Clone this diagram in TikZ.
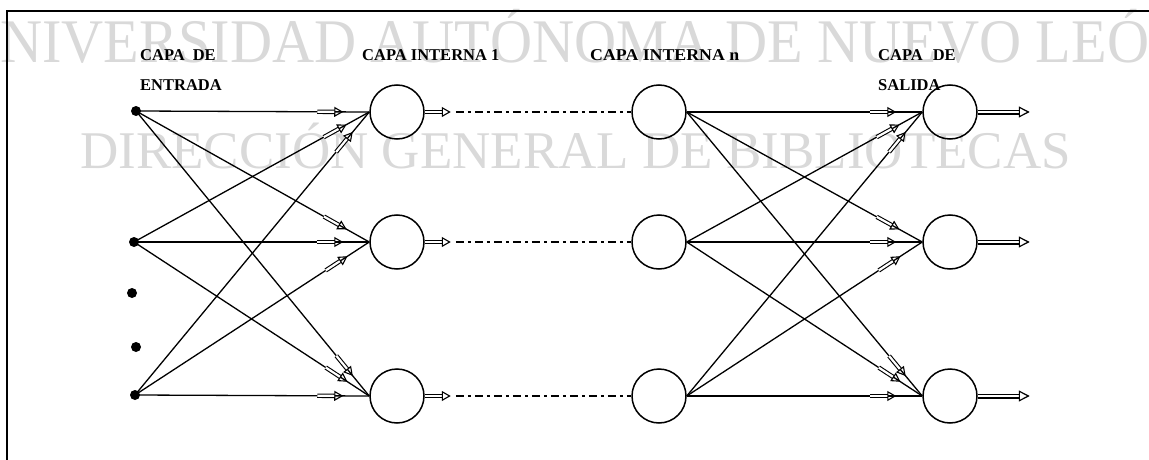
\documentclass[tikz,border=0pt]{standalone}
\usepackage{fontspec}
\setmainfont{Liberation Serif}
\usepackage{graphicx}
\usetikzlibrary{calc,arrows.meta}
\begin{document}
\begin{tikzpicture}[x=1pt,y=-1pt,
  neuron/.style={circle, draw, line width=1.5pt, minimum size=54pt, inner sep=0pt},
  dotnode/.style={circle, fill, inner sep=0pt, minimum size=10pt},
  link/.style={line width=1.3pt},
  minarrow/.style={double, double distance=2.2pt, line width=1.1pt, -{Triangle[open,length=9pt,width=10pt,line width=1.1pt]}},
  outarrow/.style={double, double distance=2.6pt, line width=1.2pt, -{Triangle[open,length=11pt,width=11pt,line width=1.2pt]}},
  dashlink/.style={line width=1.1pt, dash pattern=on 8pt off 4pt on 3pt off 4pt},
  wm/.style={text=gray!30, inner sep=0pt},
  lab/.style={font=\bfseries\fontsize{16.5}{18}\selectfont, inner sep=0pt, anchor=base west}]
\useasboundingbox (0,0) rectangle (1149,460);
\clip (0,0) rectangle (1149,460);
% watermark
\node[wm, anchor=base west, font=\fontsize{62}{64}\selectfont] (wmA) at (0,63) {\scalebox{0.94}[1]{\llap{U}NIVERSIDAD AUTÓNOMA DE NUEVO LEÓ\rlap{N}}};
\node[wm, anchor=base west, font=\fontsize{53}{55}\selectfont] (wmB) at (80,168) {DIRECCIÓN GENERAL DE BIBLIOTECAS};
% frame
\draw[line width=2.5pt] (7,470) -- (7,11) -- (1160,11);
% labels
\node[lab] (labA) at (140,60) {CAPA\hspace{8pt}DE};
\node[lab] (labB) at (140,90) {ENTRADA};
\node[lab] (labC) at (362,60) {CAPA INTERNA 1};
\node[lab] (labD) at (590,60) {\scalebox{1.08}[1]{CAPA INTERNA n}};
\node[lab] (labE) at (878,60) {CAPA\hspace{10pt}DE};
\node[lab] (labF) at (878,90) {SALIDA};
% input dots
\node[dotnode] (i1) at (136,111) {};
\node[dotnode] (i2) at (134,242) {};
\node[dotnode] (i3) at (135,395) {};
\node[dotnode] (d1) at (132,293) {};
\node[dotnode] (d2) at (136,347) {};
% neurons
\node[neuron] (ha) at (397,112) {};
\node[neuron] (hb) at (397,242) {};
\node[neuron] (hc) at (397,396) {};
\node[neuron] (na) at (659,112) {};
\node[neuron] (nb) at (659,242) {};
\node[neuron] (nc) at (659,396) {};
\node[neuron] (oa) at (950,112) {};
\node[neuron] (ob) at (950,242) {};
\node[neuron] (oc) at (950,396) {};
% input -> hidden 1
\foreach \s in {i1,i2,i3}{
  \foreach \t in {ha,hb,hc}{
    \draw[link] (\s.center) -- (\t.west);
    \draw[minarrow] ($(\t.west)!52pt!(\s.center)$) -- ($(\t.west)!26pt!(\s.center)$);
  }
}
% hidden n -> output
\foreach \s in {na,nb,nc}{
  \foreach \t in {oa,ob,oc}{
    \draw[link] (\s.east) -- (\t.west);
    \draw[minarrow] ($(\t.west)!52pt!(\s.east)$) -- ($(\t.west)!26pt!(\s.east)$);
  }
}
% hidden 1 -> hidden n
\foreach \s/\t in {ha/na,hb/nb,hc/nc}{
  \draw[minarrow] (\s.east) -- ++(26,0) coordinate (\s E);
  \draw[dashlink] ($(\s E)+(5,0)$) -- (\t.west);
}
% outputs
\foreach \s in {oa,ob,oc}{
  \draw[outarrow] (\s.east) -- ++(52,0) coordinate (\s E);
}
\end{tikzpicture}
\end{document}
